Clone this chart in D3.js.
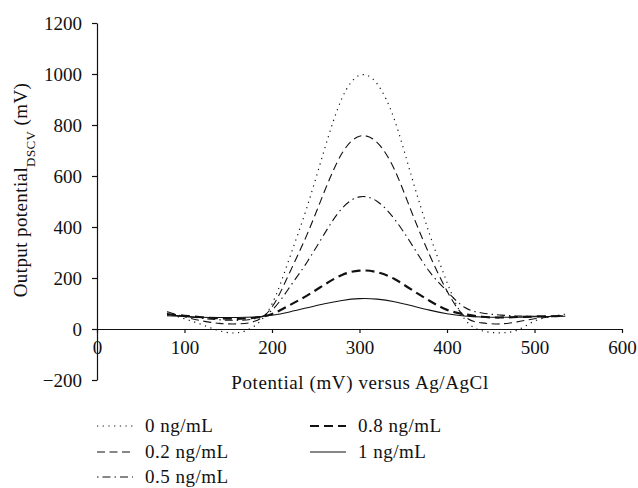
<!DOCTYPE html>
<meta charset="utf-8">
<script src="https://d3js.org/d3.v7.min.js"></script>
<style>
  body{margin:0;background:#fff;}
  text{font-family:"Liberation Serif",serif;fill:#111;}
</style>
<div id="chart"></div>
<script>
    // potential (mV) sampled along each curve
    const potential=[80,100,120,140,160,180,200,220,240,260,280,300,320,340,360,380,400,420,440,460,480,500,520,535];

    const conc0=[62,40,17,-7,-15,12,98,278,478,705,905,995,962,820,592,373,183,40,-7,-15,-5,31,50,58];
    const conc02=[68,48,32,22,20,30,86,220,370,540,689,756,732,625,455,291,149,50,24,20,28,40,48,54];
    const conc05=[55,50,42,36,34,40,74,163,262,374,473,518,501,431,330,225,148,85,63,55,51,50,50,52];
    const conc08=[58,52,46,42,40,44,59,93,131,174,212,229,223,196,153,111,75,58,48,45,47,49,50,52];
    const conc1=[52,49,46,45,45,47,54,67,83,99,112,119,117,107,91,74,60,51,47,46,46,48,49,50];

    const seriesNames=["0 ng/mL","0.2 ng/mL","0.5 ng/mL","0.8 ng/mL","1 ng/mL"];
    const xTicks=[0,100,200,300,400,500,600];
    const yTicks=[-200,0,200,400,600,800,1000,1200];

    const styles=[
        {dash:"1.2,4.5",w:1.2},
        {dash:"8,4.5",w:1.1},
        {dash:"1.5,4,8,4",w:1.1},
        {dash:"9,5",w:2.2},
        {dash:null,w:1.1}
    ];

    const series=[conc0,conc02,conc05,conc08,conc1].map((vals,i)=>({
        name:seriesNames[i],
        values:vals.map((v,j)=>({x:potential[j],y:v}))
    }));

    const W=638,H=488;
    const svg=d3.select("#chart")
        .append("svg")
            .attr("width",W)
            .attr("height",H);

    const x=d3.scaleLinear().domain([0,600]).range([97,622]);
    const y=d3.scaleLinear().domain([-200,1200]).range([380,23]);
    const fmt=d3.format("d");

    // y axis
    const yAx=svg.append("g")
        .attr("transform",`translate(${x(0)},0)`)
        .call(d3.axisLeft(y).tickValues(yTicks).tickFormat(d=>d<0?"\u2212"+fmt(-d):fmt(d))
            .tickSize(5).tickSizeOuter(0).tickPadding(10));
    yAx.selectAll("text").style("font-size","19px").style("font-family","Liberation Serif");

    // x axis sits on y = 0
    const xAx=svg.append("g")
        .attr("transform",`translate(0,${y(0)})`)
        .call(d3.axisBottom(x).tickValues(xTicks).tickFormat(fmt).tickSize(4).tickSizeOuter(0).tickPadding(8));
    xAx.selectAll("text").style("font-size","19px").style("font-family","Liberation Serif");
    svg.selectAll(".domain,.tick line").attr("stroke","#111").attr("stroke-width",1.2);

    // curves
    const line=d3.line()
        .x(d=>x(d.x))
        .y(d=>y(d.y))
        .curve(d3.curveNatural);

    svg.selectAll(".curve")
        .data(series)
        .join("path")
            .attr("class","curve")
            .attr("d",d=>line(d.values))
            .attr("fill","none")
            .attr("stroke","#111")
            .attr("stroke-width",(d,i)=>styles[i].w)
            .attr("stroke-dasharray",(d,i)=>styles[i].dash);

    // axis titles
    svg.append("text")
        .attr("x",360)
        .attr("y",389)
        .attr("text-anchor","middle")
        .style("font-size","19px")
        .style("letter-spacing","0.6px")
        .text("Potential (mV) versus Ag/AgCl");

    const yt=svg.append("text")
        .attr("transform","translate(27,190) rotate(-90)")
        .attr("text-anchor","middle")
        .style("font-size","19px")
        .style("letter-spacing","0.4px");
    yt.append("tspan").text("Output potential");
    yt.append("tspan").attr("baseline-shift","sub").style("font-size","13px").text("DSCV");
    yt.append("tspan").text(" (mV)");

    // legend
    const legendPos=[[97,426],[97,452],[97,477],[310,426],[310,452]];
    const lg=svg.append("g").selectAll("g")
        .data(series)
        .join("g")
            .attr("transform",(d,i)=>`translate(${legendPos[i][0]},${legendPos[i][1]})`);
    lg.append("line")
        .attr("x1",0).attr("x2",36)
        .attr("stroke","#111")
        .attr("stroke-width",(d,i)=>styles[i].w)
        .attr("stroke-dasharray",(d,i)=>styles[i].dash);
    lg.append("text")
        .attr("x",48)
        .attr("y",6)
        .style("font-size","19px")
        .style("letter-spacing","0.5px")
        .text(d=>d.name);
</script>
